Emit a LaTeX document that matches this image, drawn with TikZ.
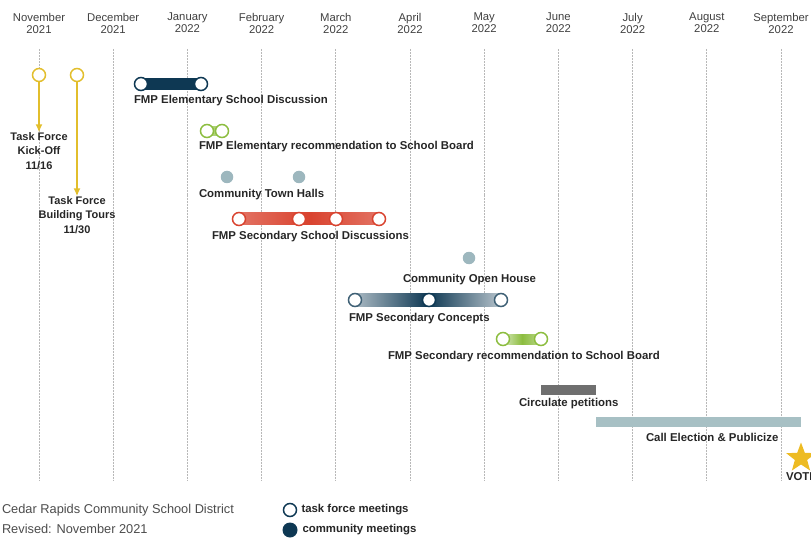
\documentclass[tikz,border=0pt]{standalone}
\usepackage{fontspec}
\setmainfont{Liberation Sans}
\usetikzlibrary{positioning,backgrounds,shapes.geometric,arrows.meta}
\definecolor{tfyellow}{HTML}{E2BE2C}
\definecolor{navy}{HTML}{0E3853}
\definecolor{recgreen}{HTML}{8CBD3F}
\definecolor{discred}{HTML}{D9432F}
\definecolor{dotgray}{HTML}{9DB7BE}
\definecolor{petgray}{HTML}{6F6F6F}
\definecolor{callblue}{HTML}{A7C0C4}
\definecolor{votegold}{HTML}{EDBB22}
\tikzstyle{every node}=[inner sep=0pt,outer sep=0pt]
\tikzstyle{month}=[align=center,text=black!75,font=\fontsize{11.3}{12}\selectfont]
\tikzstyle{gridline}=[draw=black!28,line width=0.7pt,dash pattern=on 1pt off 0.5pt]
\tikzstyle{evtext}=[anchor=west,text=black!85,font=\bfseries\fontsize{11.4}{13}\selectfont]
\tikzstyle{tftext}=[align=center,text=black!85,font=\bfseries\fontsize{11}{14.5}\selectfont]
\tikzstyle{meet}=[circle,draw,fill=white,line width=1.5pt,minimum size=13pt]
\tikzstyle{cmdot}=[circle,fill=dotgray,minimum size=12.5pt]
\tikzstyle{tfarrow}=[draw=tfyellow,line width=1.6pt,-{Latex[length=8pt,width=7pt]}]
\tikzstyle{footer}=[anchor=west,text=black!70,font=\fontsize{12.8}{14}\selectfont]

\begin{document}
\begin{tikzpicture}[x=1pt,y=-1pt]
\useasboundingbox (0,0) rectangle (811,540);
\foreach \mname/\yr [count=\i from 0] in {November/2021,December/2021,January/2022,February/2022,March/2022,April/2022,May/2022,June/2022,July/2022,August/2022,September/2022}
{
	\node[month] (m\i) at (39+74.2*\i,23) {\mname\\\yr};
	\begin{scope}[on background layer]
		\draw[gridline] (39+74.2*\i,49) -- (39+74.2*\i,480);
	\end{scope}
}

\node[meet,draw=tfyellow] (tf1) at (39,75) {};
\node[meet,draw=tfyellow] (tf2) at (77,75) {};
\node[tftext] (kickoff) at (39,151) {Task Force\\Kick-Off\\11/16};
\node[tftext] (tours) at (77,215) {Task Force\\Building Tours\\11/30};
\draw[tfarrow] (tf1) -- (kickoff);
\draw[tfarrow] (tf2) -- (tours);

\node[meet,draw=navy] (ed1) at (141,84) {};
\node[meet,draw=navy] (ed2) at (201,84) {};
\node[evtext] (edtext) at (134,101) {FMP Elementary School Discussion};

\node[meet,draw=recgreen] (er1) at (207,131) {};
\node[meet,draw=recgreen] (er2) at (222,131) {};
\node[evtext] (ertext) at (199,147) {FMP Elementary recommendation to School Board};

\node[cmdot] (th1) at (227,177) {};
\node[cmdot] (th2) at (299,177) {};
\node[evtext] (thtext) at (199,195) {Community Town Halls};

\node[meet,draw=discred] (sd1) at (239,219) {};
\node[meet,draw=discred] (sd2) at (299,219) {};
\node[meet,draw=discred] (sd3) at (336,219) {};
\node[meet,draw=discred] (sd4) at (379,219) {};
\node[evtext] (sdtext) at (212,237) {FMP Secondary School Discussions};

\node[cmdot] (oh) at (469,258) {};
\node[evtext] (ohtext) at (403,280) {Community Open House};

\node[meet,draw=navy!80] (sc1) at (355,300) {};
\node[meet,draw=navy] (sc2) at (429,300) {};
\node[meet,draw=navy!80] (sc3) at (501,300) {};
\node[evtext] (sctext) at (349,319) {FMP Secondary Concepts};

\node[meet,draw=recgreen] (sr1) at (503,339) {};
\node[meet,draw=recgreen] (sr2) at (541,339) {};
\node[evtext] (srtext) at (388,357) {FMP Secondary recommendation to School Board};

\node[fill=petgray,minimum width=55pt,minimum height=10pt] (pet) at (568.5,390) {};
\node[evtext] (pettext) at (519,404) {Circulate petitions};

\node[fill=callblue,minimum width=205pt,minimum height=10pt] (call) at (698.5,422) {};
\node[evtext] (calltext) at (646,437) {Call Election \& Publicize};

\node[star,star points=5,star point ratio=2.4,fill=votegold,minimum size=31pt] (vote) at (801,458) {};
\node[evtext] (votetext) at (786,477) {VOTE};

\begin{scope}[on background layer]
	\fill[navy] ([yshift=6pt]ed1.center) rectangle ([yshift=-6pt]ed2.center);
	\fill[recgreen!70] ([yshift=5pt]er1.center) rectangle ([yshift=-5pt]er2.center);
	\shade[left color=discred!75,right color=discred!75,middle color=discred] ([yshift=6pt]sd1.center) rectangle ([yshift=-6pt]sd4.center);
	\shade[left color=navy!35,right color=navy!30,middle color=navy] ([yshift=6.5pt]sc1.center) rectangle ([yshift=-6.5pt]sc3.center);
	\shade[left color=recgreen!35,right color=recgreen!60,middle color=recgreen] ([yshift=5pt]sr1.center) rectangle ([yshift=-5pt]sr2.center);
\end{scope}

\node[meet,draw=navy] (lg1) at (290,510) {};
\node[evtext,right=5pt of lg1] (lg1text) {task force meetings};
\node[circle,fill=navy,minimum size=15pt] (lg2) at (290,530) {};
\node[evtext,right=5pt of lg2] (lg2text) {community meetings};

\node[footer] (district) at (2,510) {Cedar Rapids Community School District};
\node[footer] (revised) at (2,529) {Revised: November 2021};
\end{tikzpicture}
\end{document}
